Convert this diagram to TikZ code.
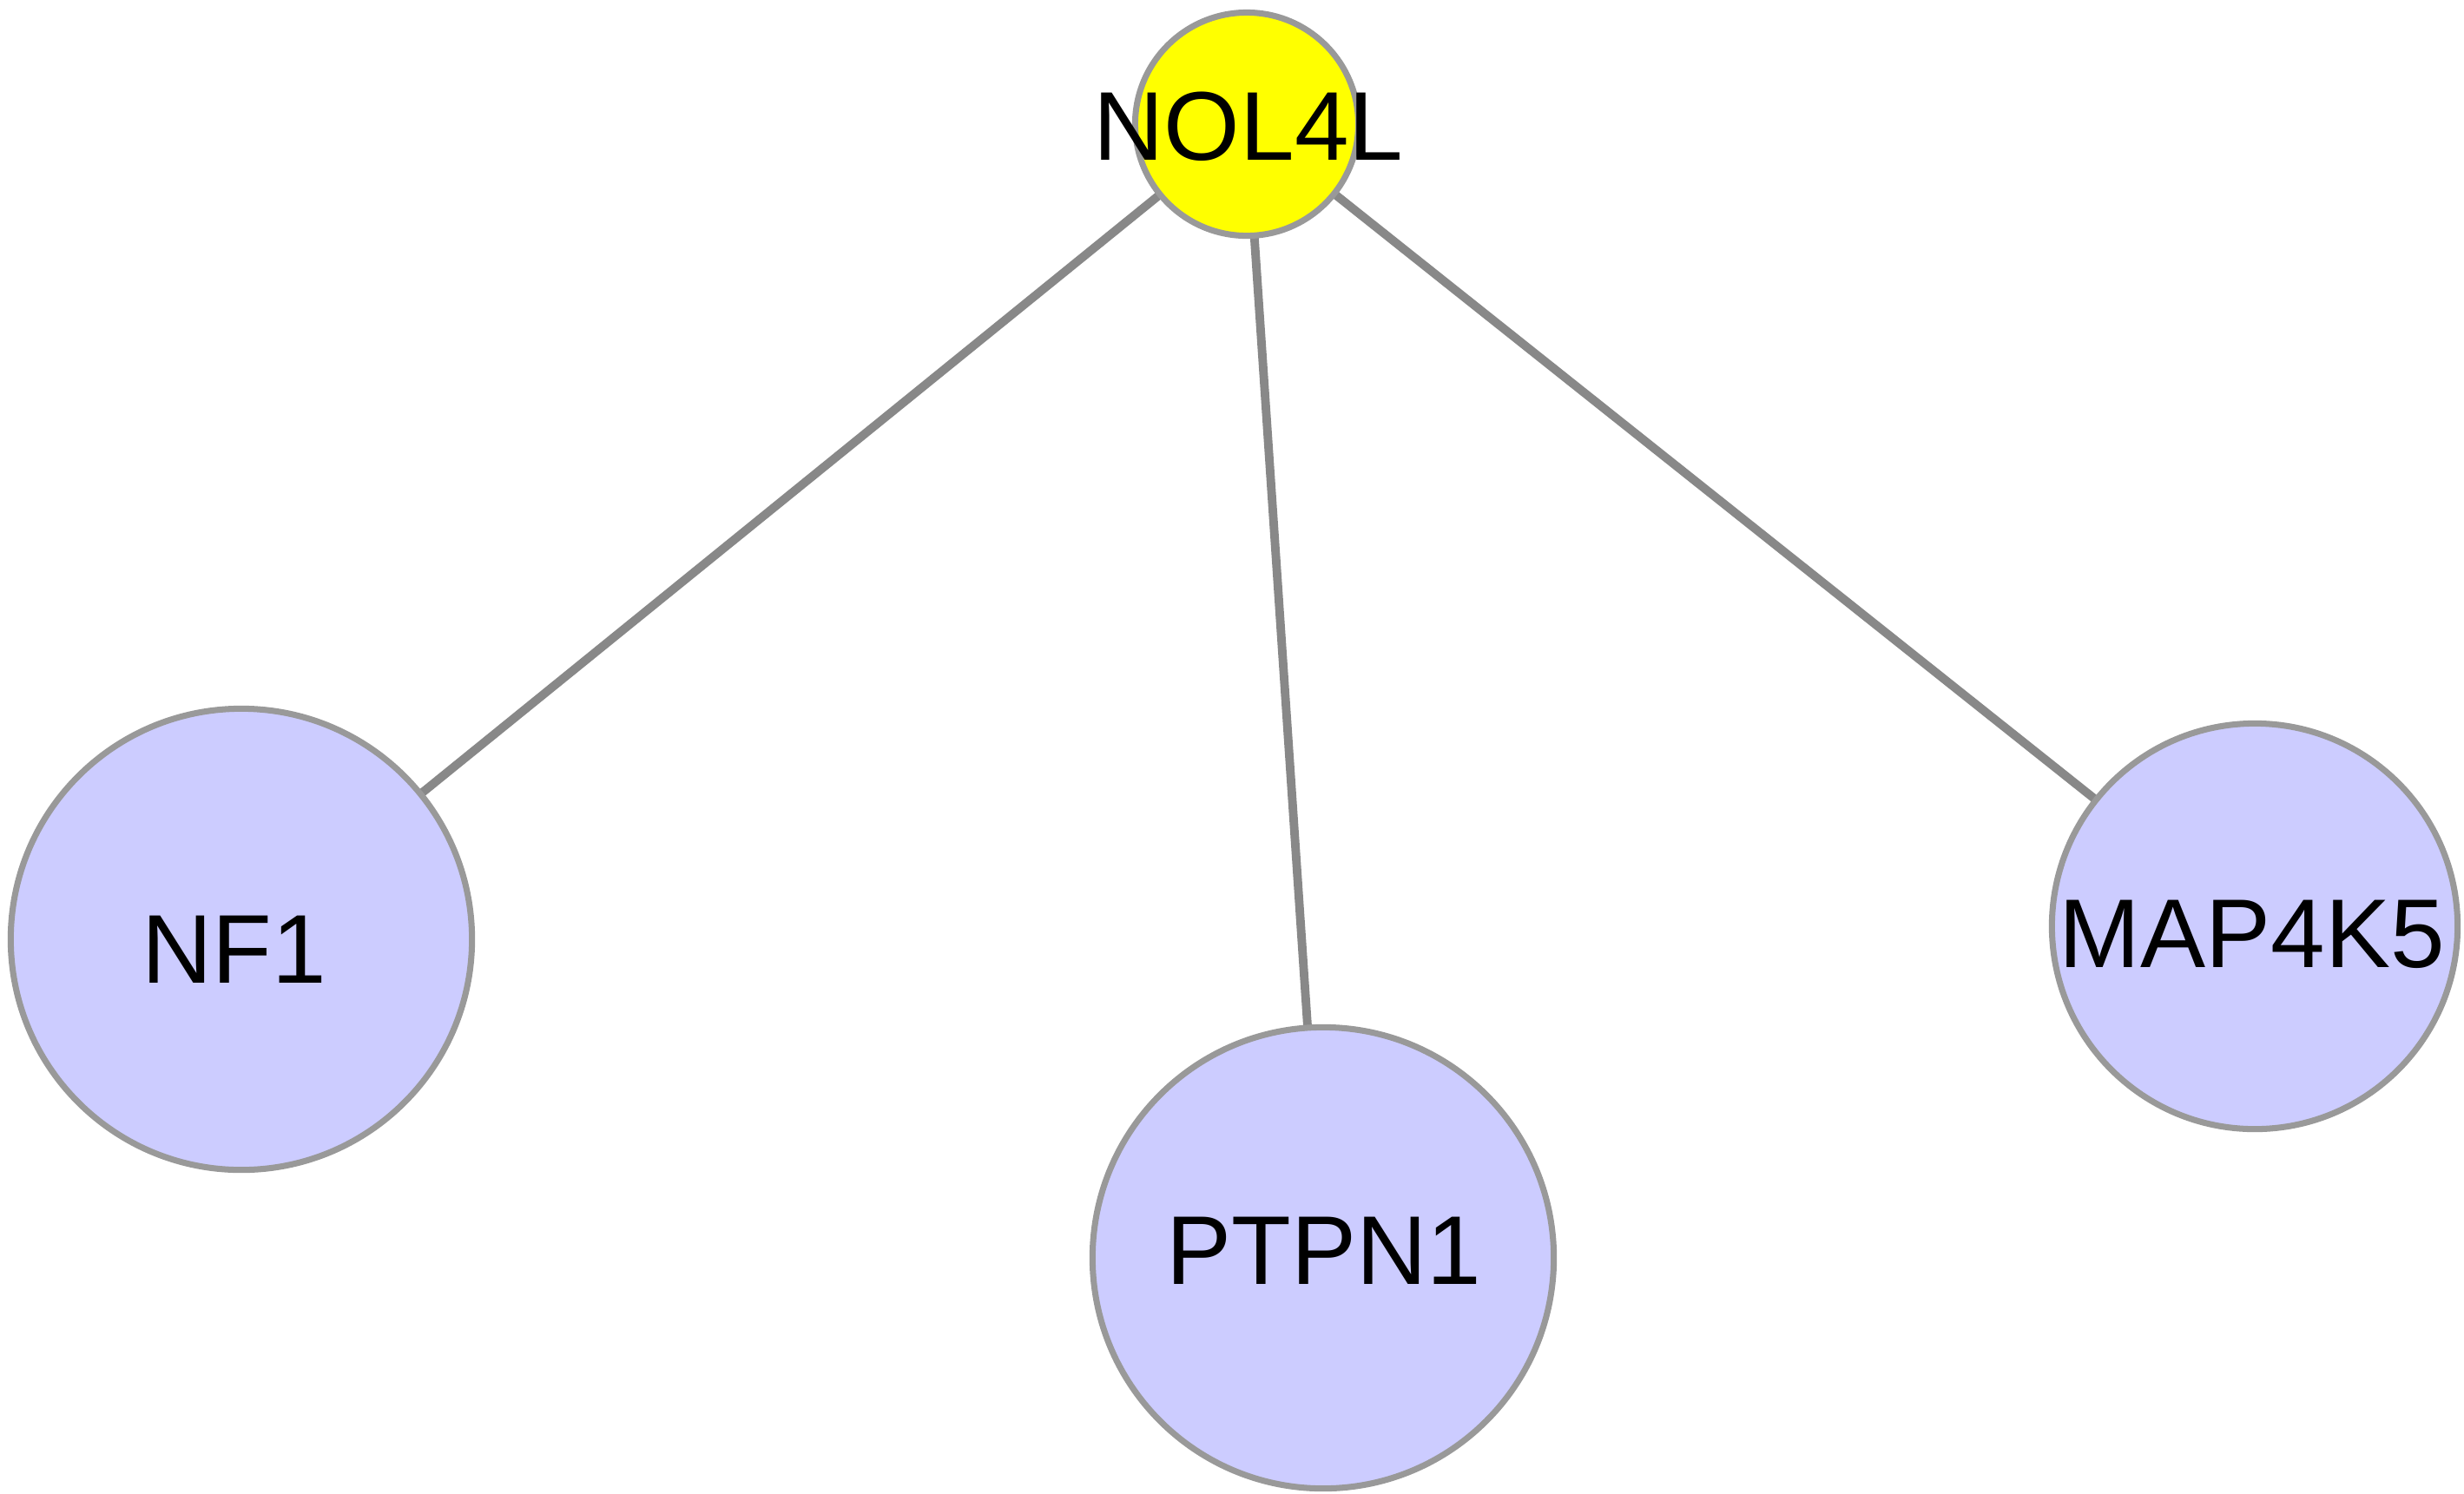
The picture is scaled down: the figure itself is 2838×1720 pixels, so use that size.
\documentclass[tikz,border=0pt]{standalone}
\usepackage{fontspec}
\setmainfont{Liberation Sans}
\usetikzlibrary{backgrounds}
\definecolor{bordergray}{HTML}{999999}
\definecolor{edgegray}{HTML}{888888}
\definecolor{nodeblue}{HTML}{CCCCFF}
\definecolor{nodeyellow}{HTML}{FFFF00}
\tikzset{
  gene/.style={circle, draw=bordergray, line width=2pt, inner sep=0pt, outer sep=0pt},
  genelabel/.style={inner sep=0pt, outer sep=0pt, font=\fontsize{32}{38}\selectfont, text=black},
  link/.style={draw=edgegray, line width=2.8pt}
}
\begin{document}
\begin{tikzpicture}[x=0.01cm, y=-0.01cm]
\useasboundingbox (0,0) rectangle (2838,1720);
\node[gene, fill=nodeyellow, minimum size=2.57cm] (nol4l) at (1436,143) {};
\node[gene, fill=nodeblue, minimum size=5.31cm] (nf1) at (278,1082) {};
\node[gene, fill=nodeblue, minimum size=5.31cm] (ptpn1) at (1524,1449) {};
\node[gene, fill=nodeblue, minimum size=4.67cm] (map4k5) at (2597,1067) {};
\begin{scope}[on background layer]
  \draw[link] (nol4l.center) -- (nf1.center);
  \draw[link] (nol4l.center) -- (ptpn1.center);
  \draw[link] (nol4l.center) -- (map4k5.center);
\end{scope}
\node[genelabel] (nol4l-t) at (1438,146) {NOL4L};
\node[genelabel] (nf1-t) at (270,1094) {NF1};
\node[genelabel] (ptpn1-t) at (1525,1441) {PTPN1};
\node[genelabel] (map4k5-t) at (2594,1076) {MAP4K5};
\end{tikzpicture}
\end{document}
